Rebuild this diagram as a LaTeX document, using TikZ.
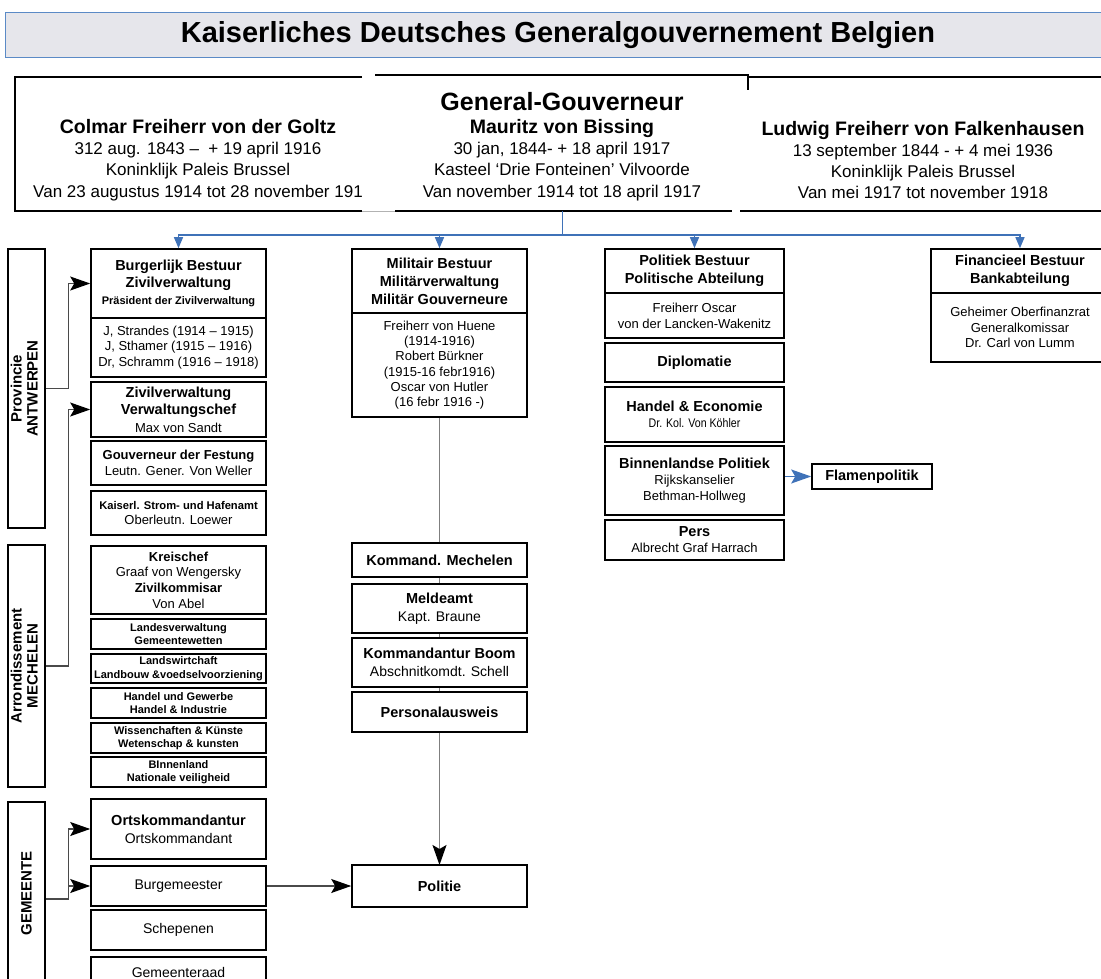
\documentclass[tikz,border=0pt]{standalone}
\usepackage{fontspec}
\setmainfont{Liberation Sans}
\usetikzlibrary{arrows.meta}
\newcommand{\fz}[2]{\fontsize{#1}{#2}\selectfont}
\definecolor{busblue}{HTML}{3F72B8}
\definecolor{titlefill}{HTML}{E6E6EB}
\definecolor{titleedge}{HTML}{5B8AC6}
\definecolor{linegray}{HTML}{4A4A4A}
\definecolor{vgray}{HTML}{7F7F7F}
\begin{document}
\begin{tikzpicture}[x=1pt,y=-1pt,
  box/.style={draw=black,line width=1.6pt,fill=white,inner sep=0pt,align=center,minimum width=175pt},
  pbox/.style={box,minimum width=179pt},
  lbl/.style={draw=black,line width=1.6pt,fill=white,inner sep=0pt,minimum width=37pt,font=\fz{15}{16}\bfseries},
  conn/.style={draw=linegray,line width=1.2pt},
  tip/.style={-{Stealth[length=20pt,width=14pt,inset=4pt,black]}},
  bus/.style={draw=busblue,line width=1.3pt},
  btip/.style={-{Triangle[length=11pt,width=9pt]}},
  hdrtxt/.style={align=center,inner sep=0pt,font=\fz{17}{21.3}}
]
\useasboundingbox (0,0) rectangle (1101,979);
\clip (0,0) rectangle (1101,979);

% title
\node[draw=titleedge,line width=1pt,fill=titlefill,minimum width=1106pt,minimum height=45pt,inner sep=0pt,
      font=\fz{29}{32}\bfseries] (title) at (558,35.5) {Kaiserliches Deutsches Generalgouvernement Belgien};

% header frame
\node[minimum width=1095pt,minimum height=134pt,inner sep=0pt] (hdr) at (562.5,144) {};
\draw[line width=1.6pt] (362,77) -- (15,77) -- (15,211) -- (362,211);
\draw[line width=0.8pt,gray!60] (362,211) -- (395,211);
\draw[line width=2.8pt] (375,75) -- (748,75) -- (748,90);
\draw[line width=2.8pt] (395,211) -- (732,211);
\draw[line width=1.6pt] (748,77) -- (1110,77);
\draw[line width=1.6pt] (740,211) -- (1110,211);

\node[font=\fz{25}{28}\bfseries,inner sep=0pt] (gg) at (562,102) {General-Gouverneur};
\node[hdrtxt] (goltz) at (198,160) {{\fz{19.5}{21.3}\bfseries Colmar Freiherr von der Goltz}\\312 aug. 1843 –\ \ + 19 april 1916\\Koninklijk Paleis Brussel\\Van 23 augustus 1914 tot 28 november 191};
\node[hdrtxt] (bissing) at (562,160) {{\fz{19.5}{21.3}\bfseries Mauritz von Bissing}\\30 jan, 1844- + 18 april 1917\\Kasteel ‘Drie Fonteinen’ Vilvoorde\\Van november 1914 tot 18 april 1917};
\node[hdrtxt] (falk) at (923,160) {{\fz{19.5}{21.3}\bfseries Ludwig Freiherr von Falkenhausen}\\13 september 1844 - + 4 mei 1936\\Koninklijk Paleis Brussel\\Van mei 1917 tot november 1918};

% military vertical line (behind boxes)
\coordinate (milbot) at (439.5,417);
\coordinate (poltop) at (439.5,865);
\draw[draw=vgray,line width=1.5pt,tip] (milbot) -- (poltop);

% left labels
\node[lbl,minimum height=279pt] (prov) at (26.5,388.5) {\rotatebox{90}{\begin{tabular}{@{}c@{}}Provincie\\ANTWERPEN\end{tabular}}};
\node[lbl,minimum height=242pt] (arr) at (26.5,666) {\rotatebox{90}{\begin{tabular}{@{}c@{}}Arrondissement\\MECHELEN\end{tabular}}};
\node[lbl,minimum height=183pt] (gem) at (26.5,893.5) {\rotatebox{90}{GEMEENTE}};

% left column
\node[box,minimum height=69pt,font=\fz{14.5}{17}\bfseries] (burgA) at (178.5,283.5) {Burgerlijk Bestuur\\Zivilverwaltung\\{\fz{11}{17}Präsident der Zivilverwaltung}};
\node[box,minimum height=59pt,font=\fz{13}{15.5}] (burgB) at (178.5,347.5) {J, Strandes (1914 – 1915)\\J, Sthamer (1915 – 1916)\\Dr, Schramm (1916 – 1918)};
\node[box,minimum height=55pt,font=\fz{13}{17.5}] (ziv) at (178.5,409.5) {{\fz{14.5}{17.5}\bfseries Zivilverwaltung}\\{\fz{14.5}{17.5}\bfseries Verwaltungschef}\\Max von Sandt};
\node[box,minimum height=44pt,font=\fz{13}{16}] (gouv) at (178.5,463) {{\bfseries Gouverneur der Festung}\\Leutn. Gener. Von Weller};
\node[box,minimum height=44pt,font=\fz{13}{15}] (kais) at (178.5,513) {{\fz{11.2}{15}\bfseries Kaiserl. Strom- und Hafenamt}\\Oberleutn. Loewer};
\node[box,minimum height=68pt,font=\fz{13}{15.7}] (kreis) at (178.5,580) {{\bfseries Kreischef}\\Graaf von Wengersky\\{\bfseries Zivilkommisar}\\Von Abel};
\node[box,minimum height=30pt,font=\fz{11}{13.5}\bfseries] (landes) at (178.5,634) {Landesverwaltung\\Gemeentewetten};
\node[box,minimum height=29pt,font=\fz{11}{13.5}\bfseries] (landsw) at (178.5,668.5) {Landswirtchaft\\Landbouw \&voedselvoorziening};
\node[box,minimum height=30pt,font=\fz{11}{13.5}\bfseries] (handg) at (178.5,703) {Handel und Gewerbe\\Handel \& Industrie};
\node[box,minimum height=30pt,font=\fz{11}{13.5}\bfseries] (wiss) at (178.5,738) {Wissenchaften \& Künste\\Wetenschap \& kunsten};
\node[box,minimum height=30pt,font=\fz{11}{13.5}\bfseries] (binnl) at (178.5,772) {BInnenland\\Nationale veiligheid};
\node[box,minimum height=60pt,font=\fz{14}{18}] (orts) at (178.5,829) {{\fz{14.5}{18}\bfseries Ortskommandantur}\\Ortskommandant};
\node[box,minimum height=40pt,font=\fz{14}{17}] (burgm) at (178.5,886) {Burgemeester};
\node[box,minimum height=40pt,font=\fz{14}{17}] (schep) at (178.5,930) {Schepenen};
\node[box,minimum height=43pt,font=\fz{14}{17}] (gemr) at (178.5,978.5) {\raisebox{12pt}{Gemeenteraad}};

% military column
\node[box,minimum height=64pt,font=\fz{14.5}{18}\bfseries] (milA) at (439.5,281) {Militair Bestuur\\Militärverwaltung\\Militär Gouverneure};
\node[box,minimum height=104pt,font=\fz{13}{15.3}] (milB) at (439.5,365) {Freiherr von Huene\\(1914-1916)\\Robert Bürkner\\(1915-16 febr1916)\\Oscar von Hutler\\(16 febr 1916 -)};
\node[box,minimum height=34pt,font=\fz{14.5}{17}\bfseries] (kmech) at (439.5,560) {Kommand. Mechelen};
\node[box,minimum height=49pt,font=\fz{14}{17.5}] (meld) at (439.5,608.5) {{\fz{14.5}{17.5}\bfseries Meldeamt}\\Kapt. Braune};
\node[box,minimum height=49pt,font=\fz{14}{18}] (kboom) at (439.5,662.5) {{\fz{14.5}{18}\bfseries Kommandantur Boom}\\Abschnitkomdt. Schell};
\node[box,minimum height=40pt,font=\fz{14.5}{17}\bfseries] (persa) at (439.5,712) {Personalausweis};
\node[box,minimum height=42pt,font=\fz{14.5}{17}\bfseries] (politie) at (439.5,886) {Politie};

% political column
\node[pbox,minimum height=44pt,font=\fz{14.5}{18}\bfseries] (polA) at (694.5,271) {Politiek Bestuur\\Politische Abteilung};
\node[pbox,minimum height=45pt,font=\fz{13}{16}] (polB) at (694.5,315.5) {Freiherr Oscar\\von der Lancken-Wakenitz};
\node[pbox,minimum height=39pt,font=\fz{14.5}{17}\bfseries] (dipl) at (694.5,362.5) {Diplomatie};
\node[pbox,minimum height=55pt,font=\fz{12.5}{16}] (hand) at (694.5,414.5) {{\fz{14.5}{16}\bfseries Handel \& Economie}\\\scalebox{0.85}[1]{Dr. Kol. Von Köhler}};
\node[pbox,minimum height=69pt,font=\fz{13}{16}] (binn) at (694.5,480.5) {{\fz{14.5}{16}\bfseries Binnenlandse Politiek}\\Rijkskanselier\\Bethman-Hollweg};
\node[pbox,minimum height=40pt,font=\fz{13}{16}] (pers) at (694.5,540) {{\fz{14.5}{16}\bfseries Pers}\\Albrecht Graf Harrach};
\node[box,minimum width=120pt,minimum height=25pt,font=\fz{14.5}{17}\bfseries] (flamen) at (872,476.5) {Flamenpolitik};

% financial column
\node[pbox,minimum width=178pt,minimum height=44pt,font=\fz{14.5}{18}\bfseries] (finA) at (1020,271) {Financieel Bestuur\\Bankabteilung};
\node[pbox,minimum width=178pt,minimum height=69pt,font=\fz{13}{15.5}] (finB) at (1020,327.5) {Geheimer Oberfinanzrat\\Generalkomissar\\Dr. Carl von Lumm};

% blue bus
\coordinate (bus) at (562.5,235);
\draw[bus] (hdr.south) -- (bus);
\draw[bus,btip] (bus) -| (burgA.north);
\draw[bus,btip] (bus) -| (milA.north);
\draw[bus,btip] (bus) -| (polA.north);
\draw[bus,btip] (bus) -| (finA.north);
\draw[draw=busblue,line width=1.3pt,-{Stealth[length=20pt,width=14pt,inset=4pt]}] (binn.east |- flamen.west) -- (flamen.west);

% left connectors
\draw[conn,tip] (prov.east) -- ++(23,0) |- (burgA.west);
\draw[conn,tip] (arr.east) -- ++(23,0) |- (ziv.west);
\coordinate (gemj) at (68.5,899);
\draw[conn] (gem.east |- gemj) -- (gemj);
\draw[conn,tip] (gemj) |- (orts.west);
\draw[conn,tip] (gemj |- burgm.west) -- (burgm.west);
\draw[conn,tip] (burgm.east) -- (politie.west);
\end{tikzpicture}
\end{document}
